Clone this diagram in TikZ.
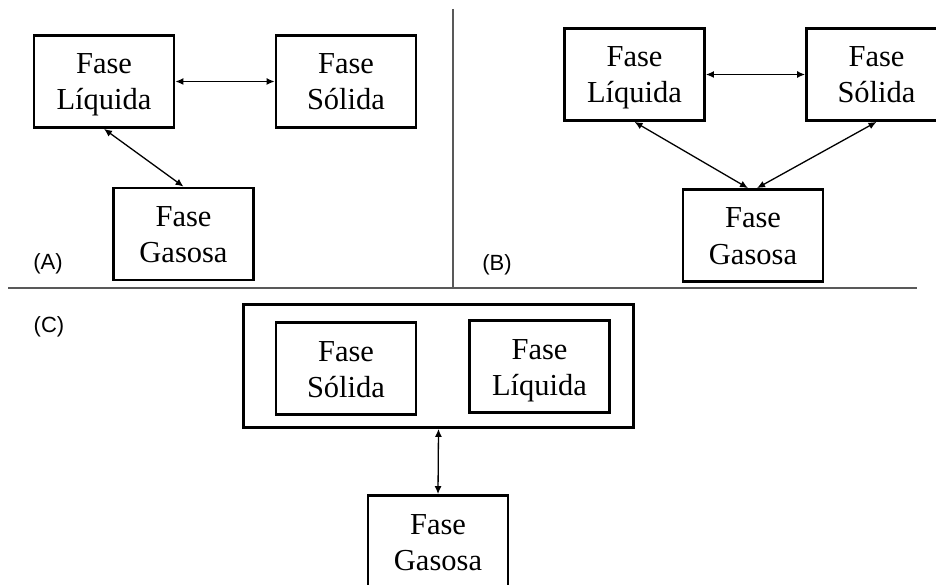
\documentclass[tikz,border=0pt]{standalone}
\usepackage{fontspec}
\setmainfont{Liberation Serif}
\newfontfamily\labelfont{Liberation Sans}
\usetikzlibrary{arrows.meta}
\newcommand{\boxstrut}{\rule[-7pt]{0pt}{35pt}}

\begin{document}
\begin{tikzpicture}
  [x=1pt,y=-1pt]
      \tikzstyle{box_style} = [draw=black, line width=2.8, minimum width=140, minimum height=92, align=center, inner sep=0, font=\fontsize{30.5}{36}\selectfont]
      \tikzstyle{edge_style} = [draw=black, line width=1.3, {Latex[length=8,width=7]}-{Latex[length=8,width=7]}]
      \tikzstyle{sep_style} = [draw=black!65, line width=1.6]
      \tikzstyle{tag_style} = [font=\labelfont\fontsize{22}{24}\selectfont]
  \useasboundingbox (0,0) rectangle (936,585);
  \clip (0,0) rectangle (936,585);
  \draw[sep_style] (453,9) -- (453,288);
  \draw[sep_style] (8,288) -- (917,288);
  % (A)
  \node[box_style] (liqA) at (104,81.5) {\boxstrut Fase\\\boxstrut Líquida};
  \node[box_style] (solA) at (346,81.5) {\boxstrut Fase\\\boxstrut Sólida};
  \node[box_style] (gasA) at (183.5,234) {\boxstrut Fase\\\boxstrut Gasosa};
  \node[tag_style] (tagA) at (48,264) {(A)};
  \draw[edge_style] (liqA) -- (solA);
  \draw[edge_style] (liqA.south) -- (gasA.north);
  % (B)
  \node[box_style] (liqB) at (634.5,74.5) {\boxstrut Fase\\\boxstrut Líquida};
  \node[box_style] (solB) at (876.5,74.5) {\boxstrut Fase\\\boxstrut Sólida};
  \node[box_style] (gasB) at (753,235.5) {\boxstrut Fase\\\boxstrut Gasosa};
  \node[tag_style] (tagB) at (497,265) {(B)};
  \draw[edge_style] (liqB) -- (solB);
  \draw[edge_style] (liqB.south) -- ([xshift=-5]gasB.north);
  \draw[edge_style] (solB.south) -- ([xshift=4]gasB.north);
  % (C)
  \node[box_style, minimum width=390, minimum height=123] (outC) at (438.5,366) {};
  \node[box_style] (solC) at (346,368.5) {\boxstrut Fase\\\boxstrut Sólida};
  \node[box_style] (liqC) at (539.5,366.5) {\boxstrut Fase\\\boxstrut Líquida};
  \node[box_style] (gasC) at (438,541.5) {\boxstrut Fase\\\boxstrut Gasosa};
  \node[tag_style] (tagC) at (49,327) {(C)};
  \draw[edge_style] (outC.south) -- (gasC.north);
\end{tikzpicture}
\end{document}
